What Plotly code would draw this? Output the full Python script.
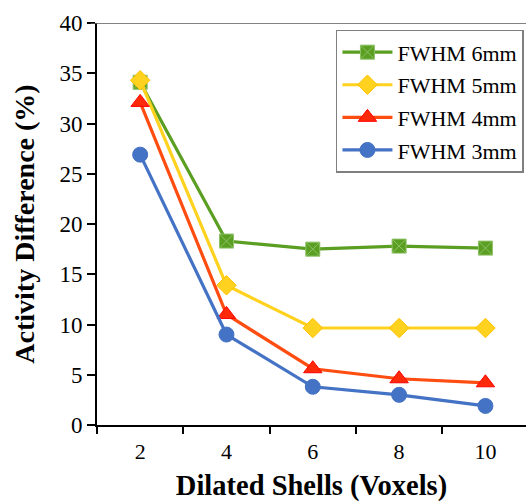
import plotly.graph_objects as go

shells = ["2", "4", "6", "8", "10"]
fwhm6 = [34.1, 18.3, 17.5, 17.8, 17.6]
fwhm5 = [34.3, 13.9, 9.65, 9.65, 9.65]
fwhm4 = [32.1, 11.0, 5.6, 4.6, 4.2]
fwhm3 = [26.9, 9.0, 3.8, 3.0, 1.9]
names = ["FWHM 6mm", "FWHM 5mm", "FWHM 4mm", "FWHM 3mm"]

series = [
    (names[0], fwhm6, "#5A9E22", "square-x", "#5A9E22", "#8DC266", 14),
    (names[1], fwhm5, "#FFD21F", "diamond", "#FFD21F", "#FFC000", 15),
    (names[2], fwhm4, "#FF4D12", "triangle-up", "#FF2A0A", "#FF0000", 16),
    (names[3], fwhm3, "#4472C4", "circle", "#4472C4", "#4472C4", 15),
]

fig = go.Figure()
for i, (name, vals, lc, sym, mc, mlc, ms) in enumerate(series):
    fig.add_trace(go.Scatter(
        x=shells, y=vals, name=name, mode="lines+markers",
        legendgroup="g%d" % i,
        line=dict(color=lc, width=3.2),
        marker=dict(symbol=sym, size=ms, color=mc, line=dict(color=mlc, width=1)),
    ))

fig.add_shape(type="line", xref="paper", yref="y", x0=-0.015, x1=1, y0=40, y1=40,
              line=dict(color="#595959", width=1.5))

font = "Liberation Serif"
fig.update_layout(
    width=526, height=503,
    margin=dict(l=97, r=0, t=23, b=78),
    paper_bgcolor="white", plot_bgcolor="white",
    font=dict(family=font, size=22, color="#000000"),
    showlegend=True,
    legend=dict(x=0.557, y=0.983, xanchor="left", yanchor="top",
                bgcolor="white", bordercolor="#7F7F7F", borderwidth=1.5,
                font=dict(family=font, size=22, color="#000"),
                tracegroupgap=1, itemwidth=50),
    xaxis=dict(type="category", range=[-0.5, 4.47], tickson="boundaries",
               ticks="outside", ticklen=7, tickwidth=1.5, tickcolor="#000",
               showline=True, linecolor="#000", linewidth=1.5,
               showgrid=False, zeroline=False, ticklabelstandoff=6,
               tickfont=dict(family=font, size=22),
               title=dict(text="<b>Dilated Shells (Voxels)</b>",
                          font=dict(family=font, size=28.5), standoff=12)),
    yaxis=dict(range=[0, 40], dtick=5, ticks="outside", ticklen=8, tickwidth=1.5,
               tickcolor="#000", showline=True, linecolor="#000", linewidth=2,
               showgrid=False, zeroline=False,
               tickfont=dict(family=font, size=23),
               title=dict(text="<b>Activity Difference (%)</b>",
                          font=dict(family=font, size=28), standoff=17)),
)

fig.write_html("out.html")
